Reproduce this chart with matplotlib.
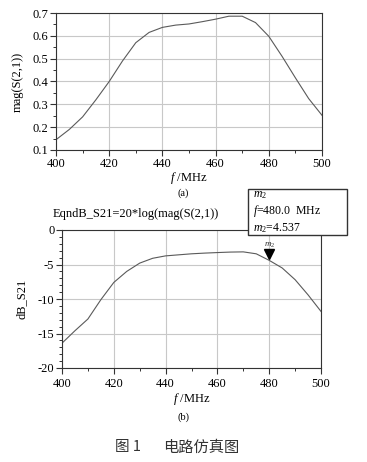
import matplotlib
matplotlib.use("Agg")
import matplotlib.pyplot as plt
from matplotlib.patches import Rectangle
from matplotlib.ticker import MultipleLocator

freq = [400, 405, 410, 415, 420, 425, 430, 435, 440, 445, 450, 455, 460, 465, 470, 475, 480, 485, 490, 495, 500]
mag_s21 = [0.145, 0.19, 0.245, 0.32, 0.40, 0.49, 0.57, 0.615, 0.637, 0.647, 0.652, 0.662, 0.673, 0.686, 0.686, 0.658, 0.598, 0.51, 0.416, 0.325, 0.252]
db_s21 = [-16.4, -14.6, -12.9, -10.1, -7.6, -6.0, -4.8, -4.1, -3.75, -3.6, -3.45, -3.35, -3.27, -3.2, -3.17, -3.45, -4.4, -5.5, -7.2, -9.4, -11.8]
marker_f = 480.0
marker_val = "4.537"

W, H = 367, 462
serif = ["Liberation Serif", "DejaVu Serif"]
plt.rcParams['font.family'] = serif
plt.rcParams['mathtext.fontset'] = 'custom'
plt.rcParams['mathtext.rm'] = 'Liberation Serif'
plt.rcParams['mathtext.it'] = 'Liberation Serif:italic'
plt.rcParams['axes.unicode_minus'] = False
fig = plt.figure(figsize=(W/100, H/100), dpi=100)
fs = 9
line_col = "#5a5a5a"
grid_col = "#c8c8c8"

def ax_rect(l, t, r, b):
    return [l/W, 1 - b/H, (r-l)/W, (b-t)/H]

def style(ax):
    ax.grid(True, color=grid_col, linewidth=0.8)
    ax.grid(False, which='minor')
    ax.tick_params(direction='out', labelsize=fs, length=4, width=0.8, pad=1.5, color="#333333")
    ax.tick_params(which='minor', direction='out', length=2.5, width=0.7, color="#333333")
    for s in ax.spines.values():
        s.set_color("#333333")
        s.set_linewidth(0.8)
    ax.set_axisbelow(True)

# top chart
ax1 = fig.add_axes(ax_rect(56, 13, 322, 150))
ax1.plot(freq, mag_s21, color=line_col, linewidth=0.8)
ax1.set_xlim(400, 500)
ax1.set_ylim(0.1, 0.7)
ax1.xaxis.set_major_locator(MultipleLocator(20))
ax1.xaxis.set_minor_locator(MultipleLocator(10))
ax1.yaxis.set_major_locator(MultipleLocator(0.1))
ax1.yaxis.set_minor_locator(MultipleLocator(0.05))
style(ax1)
ax1.set_ylabel("mag(S(2,1))", fontsize=fs)
ax1.yaxis.set_label_coords(-32/266, 0.5)
ax1.set_xlabel("$f$ /MHz", fontsize=fs, labelpad=0)
fig.text(183/W, 1 - 193/H, "(a)", ha='center', va='center', fontsize=7.5)

# bottom chart
ax2 = fig.add_axes(ax_rect(62, 230, 321, 368))
ax2.plot(freq, db_s21, color=line_col, linewidth=0.8)
ax2.set_xlim(400, 500)
ax2.set_ylim(-20, 0)
ax2.xaxis.set_major_locator(MultipleLocator(20))
ax2.xaxis.set_minor_locator(MultipleLocator(10))
ax2.yaxis.set_major_locator(MultipleLocator(5))
ax2.yaxis.set_minor_locator(MultipleLocator(1))
style(ax2)
ax2.tick_params(axis='x', which='major', pad=3)
ax2.set_ylabel("dB_S21", fontsize=fs)
ax2.yaxis.set_label_coords(-34/259, 0.5)
ax2.set_xlabel("$f$ /MHz", fontsize=fs, labelpad=1)
ax2.set_title("EqndB_S21=20*log(mag(S(2,1))", fontsize=fs, loc='left', x=-0.035, pad=9)
idx = freq.index(int(marker_f))
ax2.plot([marker_f], [db_s21[idx] + 0.9], marker='v', color='black', markersize=7, linestyle='none')
ax2.annotate("$m_2$", (marker_f, db_s21[idx] + 0.9), xytext=(0, 3), textcoords='offset points',
             ha='center', va='bottom', fontsize=6.5, color="#333333")
fig.text(183/W, 1 - 417/H, "(b)", ha='center', va='center', fontsize=7.5)

# marker box
fig.patches.append(Rectangle((248/W, 1 - 235/H), 99/W, 46/H, transform=fig.transFigure,
                             facecolor='white', edgecolor='#333333', linewidth=1.0, zorder=5))
box_txt = "$m_2$\n$f$=%.1f  MHz\n$m_2$=%s" % (marker_f, marker_val)
fig.text(253/W, 1 - 212/H, box_txt, ha='left', va='center', fontsize=8.5, linespacing=1.2, zorder=6)

cjk = ["Noto Sans CJK SC", "DejaVu Sans"]
fig.text(128/W, 1 - 447/H, "图 1", ha='center', va='center', fontsize=10.5, family=cjk, color="#333333")
fig.text(201/W, 1 - 447/H, "电路仿真图", ha='center', va='center', fontsize=11, family=cjk, color="#333333")

fig.savefig("out.png", dpi=100)
